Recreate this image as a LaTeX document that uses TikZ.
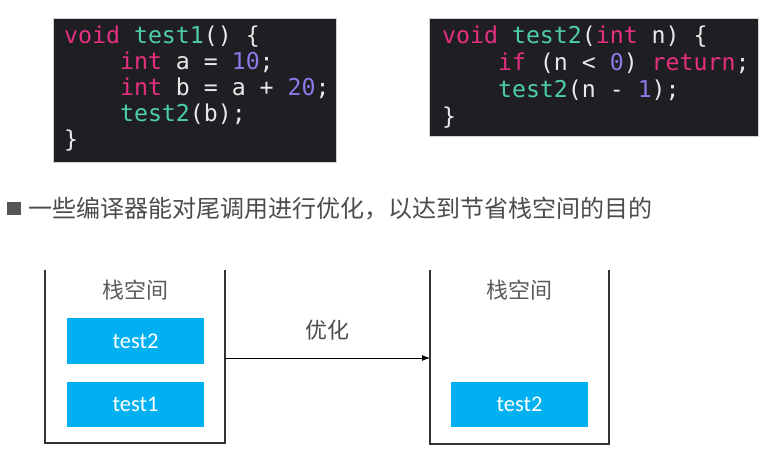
\documentclass[tikz,border=0pt]{standalone}
\usepackage{fontspec}
\setmonofont{DejaVu Sans Mono}
\newfontfamily\cjk{Noto Sans CJK SC}
\newfontfamily\bodysans{Carlito}
\usetikzlibrary{arrows.meta}
\definecolor{codebg}{HTML}{1F1F23}
\definecolor{kwc}{HTML}{E5307F}
\definecolor{fnc}{HTML}{4DCDAA}
\definecolor{numc}{HTML}{8C78E6}
\definecolor{plainc}{HTML}{E8E8E8}
\definecolor{blueb}{HTML}{00B0F0}
\definecolor{graytxt}{HTML}{5A5A5A}
\definecolor{bullet}{HTML}{555555}
\definecolor{stackc}{HTML}{333333}
\newcommand{\kw}[1]{\textcolor{kwc}{#1}}
\newcommand{\fn}[1]{\textcolor{fnc}{#1}}
\newcommand{\nm}[1]{\textcolor{numc}{#1}}
\begin{document}
\begin{tikzpicture}[x=1pt,y=-1pt,
  codebox/.style={fill=codebg,draw=gray!35,line width=0.6pt},
  codeline/.style={anchor=base west,inner sep=0pt,text=plainc,font=\ttfamily\fontsize{23.2}{26}\selectfont},
  frame/.style={draw=stackc,line width=1.4pt},
  cell/.style={fill=blueb,draw=none,text=white,font=\bodysans\fontsize{22.5}{26}\selectfont},
  stacklabel/.style={text=graytxt,font=\cjk\fontsize{22}{26}\selectfont,inner sep=0pt},
  flow/.style={draw=black,line width=1pt,-{Latex[length=8pt,width=6pt]}}
]
\useasboundingbox (0,0) rectangle (771,457);
\fill[white] (0,0) rectangle (771,457);

% code box 1
\draw[codebox] (53,18) rectangle (336,162);
\node[codeline] (c1a) at (64,44) {\kw{void} \fn{test1}() \{};
\node[codeline] (c1b) at (64,70) {\phantom{0000}\kw{int} a = \nm{10};};
\node[codeline] (c1c) at (64,96) {\phantom{0000}\kw{int} b = a + \nm{20};};
\node[codeline] (c1d) at (64,122) {\phantom{0000}\fn{test2}(b);};
\node[codeline] (c1e) at (64,148) {\}};

% code box 2
\draw[codebox] (429,18) rectangle (758,136);
\node[codeline] (c2a) at (442,44) {\kw{void} \fn{test2}(\kw{int} n) \{};
\node[codeline] (c2b) at (442,71) {\phantom{0000}\kw{if} (n < \nm{0}) \kw{return};};
\node[codeline] (c2c) at (442,98) {\phantom{0000}\fn{test2}(n - \nm{1});};
\node[codeline] (c2d) at (442,125) {\}};

% bullet line
\fill[bullet] (7,202) rectangle (21,215);
\node[anchor=west,inner sep=0pt,text=graytxt!85!black,font=\cjk\fontsize{24}{28}\selectfont] (bl) at (28,209) {一些编译器能对尾调用进行优化，以达到节省栈空间的目的};

% left stack
\coordinate (lt) at (45,270);
\coordinate (lb) at (45,443);
\coordinate (rb) at (225,443);
\coordinate (rt) at (225,270);
\draw[frame] (lt) -- (lb) -- (rb) -- (rt);
\node[stacklabel] (sl1) at (135,290) {栈空间};
\node[cell,minimum width=137pt,minimum height=46pt] (l2) at (135.5,341) {test2};
\node[cell,minimum width=137pt,minimum height=45pt] (l1) at (135.5,404.5) {test1};

% right stack
\coordinate (Lt) at (430,270);
\coordinate (Lb) at (430,444);
\coordinate (Rb) at (609,444);
\coordinate (Rt) at (609,270);
\draw[frame] (Lt) -- (Lb) -- (Rb) -- (Rt);
\node[stacklabel] (sl2) at (519.5,290) {栈空间};
\node[cell,minimum width=137pt,minimum height=45pt] (r2) at (519.5,404.5) {test2};

% arrow
\coordinate (as) at (225,358);
\coordinate (ae) at (430,358);
\draw[flow] (as) -- (ae);
\node[stacklabel,text=black!70] (opt) at (327,330) {优化};
\end{tikzpicture}
\end{document}
